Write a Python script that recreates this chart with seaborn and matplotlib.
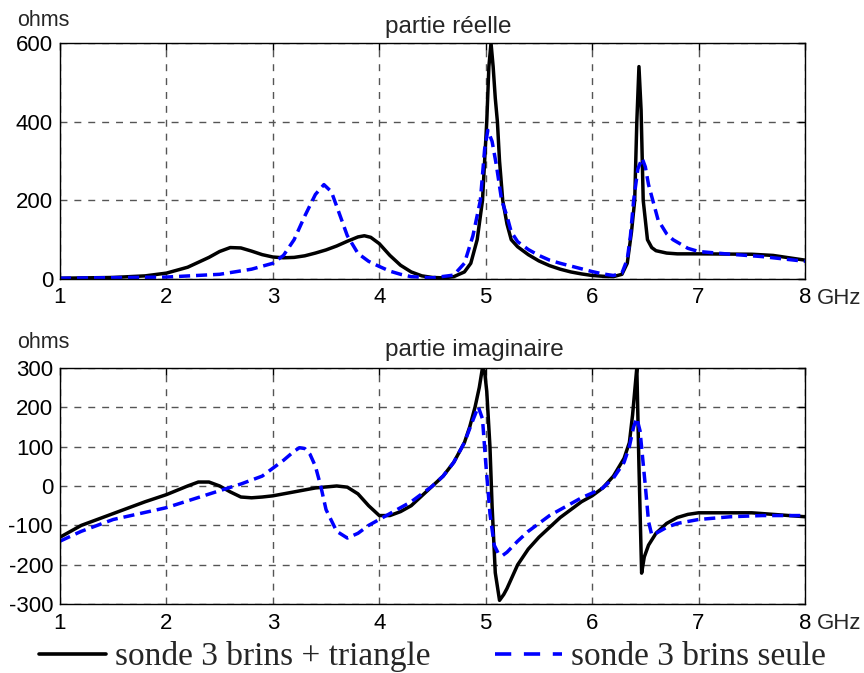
import matplotlib
matplotlib.use("Agg")
import matplotlib.pyplot as plt
import pandas as pd
import seaborn as sns

sns.set_style("white")
plt.rcParams['font.family'] = ['Liberation Sans', 'DejaVu Sans']

# --- data (GHz, ohms) ---
lab_tri = "sonde 3 brins + triangle"
lab_seule = "sonde 3 brins seule"

# partie reelle, sonde + triangle
f_re_tri = [1.0, 1.5, 1.8, 2.0, 2.2, 2.4, 2.5, 2.6, 2.7, 2.8, 2.9, 3.0, 3.1, 3.2, 3.3, 3.4, 3.5,
            3.6, 3.7, 3.8, 3.86, 3.92, 4.0, 4.1, 4.2, 4.3, 4.4, 4.5, 4.6, 4.7, 4.8, 4.86, 4.92,
            4.97, 5.01, 5.03, 5.05, 5.07, 5.09, 5.11, 5.13, 5.16, 5.2, 5.24, 5.3, 5.4, 5.5, 5.6,
            5.7, 5.8, 5.9, 6.0, 6.1, 6.2, 6.28, 6.33, 6.37, 6.4, 6.42, 6.44, 6.46, 6.48, 6.52,
            6.56, 6.6, 6.7, 6.8, 7.0, 7.5, 7.7, 8.0]
re_tri = [2, 4, 8, 15, 30, 55, 70, 80, 79, 71, 62, 56, 54, 55, 59, 66, 74,
          84, 96, 107, 110, 106, 90, 60, 35, 18, 8, 4, 3, 6, 18, 40, 100,
          200, 400, 540, 600, 540, 460, 400, 300, 200, 140, 100, 82, 62, 46, 34,
          25, 18, 13, 9, 7, 6, 12, 40, 120, 200, 400, 540, 430, 200, 100,
          80, 72, 66, 64, 64, 63, 60, 48]

# partie reelle, sonde seule
f_re_seule = [1.0, 2.0, 2.5, 2.8, 3.0, 3.1, 3.2, 3.3, 3.4, 3.48, 3.55, 3.6, 3.7, 3.8, 3.9, 4.0,
              4.1, 4.2, 4.3, 4.5, 4.7, 4.8, 4.88, 4.95, 4.99, 5.02, 5.06, 5.1, 5.15, 5.2, 5.24,
              5.3, 5.4, 5.5, 5.6, 5.7, 5.8, 5.9, 6.0, 6.1, 6.2, 6.28, 6.33, 6.36, 6.39, 6.43,
              6.47, 6.5, 6.53, 6.57, 6.62, 6.7, 6.76, 6.9, 7.0, 7.3, 7.6, 8.0]
re_seule = [2, 5, 12, 25, 40, 60, 100, 160, 215, 240, 222, 185, 110, 65, 45, 32,
            20, 12, 6, 3, 10, 40, 110, 200, 330, 378, 350, 290, 200, 160, 120,
            95, 75, 60, 48, 40, 33, 26, 19, 13, 9, 15, 50, 110, 200, 280,
            307, 285, 240, 200, 150, 115, 100, 78, 70, 63, 57, 45]

# partie imaginaire, sonde + triangle
f_im_tri = [1.0, 1.2, 1.5, 1.8, 2.0, 2.2, 2.3, 2.4, 2.5, 2.6, 2.7, 2.8, 2.9, 3.0, 3.2, 3.4,
            3.6, 3.7, 3.8, 3.9, 4.0, 4.1, 4.2, 4.3, 4.4, 4.5, 4.6, 4.7, 4.8, 4.85, 4.9, 4.94,
            4.97, 4.99, 5.01, 5.04, 5.06, 5.09, 5.13, 5.17, 5.2, 5.3, 5.4, 5.5, 5.6, 5.7, 5.8,
            5.9, 6.0, 6.1, 6.2, 6.3, 6.35, 6.38, 6.4, 6.42, 6.44, 6.465, 6.49, 6.53, 6.6, 6.7,
            6.8, 6.9, 7.0, 7.5, 7.7, 8.0]
im_tri = [-130, -100, -70, -40, -22, 0, 10, 10, 0, -15, -28, -30, -28, -25, -15, -5,
          0, -3, -20, -50, -75, -75, -65, -50, -25, 0, 25, 60, 110, 150, 200, 250,
          300, 290, 240, 100, -50, -220, -290, -275, -260, -200, -160, -130, -105, -80, -60,
          -40, -25, -5, 25, 70, 110, 180, 240, 300, 50, -221, -180, -150, -120, -95,
          -80, -72, -68, -68, -72, -78]

# partie imaginaire, sonde seule
f_im_seule = [1.0, 1.2, 1.5, 2.0, 2.5, 2.7, 2.9, 3.0, 3.1, 3.2, 3.25, 3.3, 3.35, 3.4, 3.45,
              3.5, 3.6, 3.7, 3.8, 3.9, 4.0, 4.1, 4.2, 4.3, 4.4, 4.5, 4.6, 4.7, 4.8, 4.87, 4.93,
              4.97, 5.0, 5.04, 5.08, 5.12, 5.16, 5.2, 5.3, 5.4, 5.5, 5.6, 5.7, 5.8, 5.9, 6.0,
              6.1, 6.2, 6.3, 6.35, 6.39, 6.42, 6.45, 6.5, 6.53, 6.56, 6.6, 6.7, 6.8, 7.0, 7.3,
              7.6, 8.0]
im_seule = [-140, -115, -85, -55, -12, 5, 25, 45, 65, 88, 97, 95, 80, 50, 0,
            -60, -115, -132, -120, -100, -85, -70, -55, -40, -20, 0, 25, 60, 110, 160, 201,
            170, 60, -70, -150, -172, -176, -168, -140, -115, -95, -75, -60, -45, -30, -18,
            -5, 20, 60, 100, 150, 172, 140, 0, -90, -124, -120, -105, -95, -85, -78,
            -75, -75]

df_re = pd.concat([pd.DataFrame({'f': f_re_tri, 'v': re_tri, 'sonde': lab_tri}),
                   pd.DataFrame({'f': f_re_seule, 'v': re_seule, 'sonde': lab_seule})],
                  ignore_index=True)
df_im = pd.concat([pd.DataFrame({'f': f_im_tri, 'v': im_tri, 'sonde': lab_tri}),
                   pd.DataFrame({'f': f_im_seule, 'v': im_seule, 'sonde': lab_seule})],
                  ignore_index=True)

palette = {lab_tri: 'black', lab_seule: '#0000ff'}
dashes = {lab_tri: '', lab_seule: (3.2, 1.7)}

fig = plt.figure(figsize=(8.64, 6.73), dpi=100)
ax1 = fig.add_axes([0.0694, 0.5854, 0.8623, 0.3507])
ax2 = fig.add_axes([0.0694, 0.1021, 0.8623, 0.3516])

panels = [(ax1, df_re, (0, 600), [0, 200, 400, 600], "partie réelle", 27, 20),
          (ax2, df_im, (-300, 300), [-300, -200, -100, 0, 100, 200, 300],
           "partie imaginaire", 350, 342)]

for ax, d, ylim, yt, title, ty, oy in panels:
    sns.lineplot(data=d, x='f', y='v', hue='sonde', style='sonde', palette=palette,
                 dashes=dashes, estimator=None, sort=False, linewidth=2.5, ax=ax,
                 legend=False)
    ax.set_xlim(1, 8)
    ax.set_ylim(*ylim)
    ax.set_xticks(range(1, 9))
    ax.set_xticklabels([str(i) for i in range(1, 9)])
    ax.set_yticks(yt)
    ax.set_yticklabels([str(v) for v in yt])
    ax.set_xlabel("")
    ax.set_ylabel("")
    ax.grid(True, linestyle=(0, (5, 5)), color='#555555', linewidth=1.0)
    ax.tick_params(direction='in', length=5, width=1, top=True, right=True,
                   labelsize=16, colors='black')
    ax.tick_params(axis='x', pad=6)
    ax.tick_params(axis='y', pad=5)
    for s in ax.spines.values():
        s.set_linewidth(1.0)
        s.set_color('black')
        s.set_visible(True)
    fig.text(385 / 864, 1 - ty / 673, title, ha='left', va='center', fontsize=17.5)
    fig.text(17 / 864, 1 - oy / 673, "ohms", ha='left', va='center', fontsize=15.5)
    # unit written after the last tick label, on the same line
    y_lab = ax.get_position().y0 - 19 / 673
    fig.text(817 / 864, y_lab, "GHz", ha='left', va='center', fontsize=16)

# legend below the lower panel: two entries placed like the reference
h1 = plt.Line2D([], [], color='black', linewidth=2.6)
h2 = plt.Line2D([], [], color='#0000ff', linewidth=2.6, linestyle=(0, (4.5, 3.5)))
leg_kw = dict(loc='center left', frameon=False, handlelength=2.0, handletextpad=0.27,
              borderpad=0, borderaxespad=0,
              prop={'family': 'Liberation Serif', 'size': 24})
fig.legend([h1], [lab_tri], bbox_to_anchor=(39 / 864, 1 - 657 / 673), **leg_kw)
fig.legend([h2], [lab_seule], bbox_to_anchor=(495 / 864, 1 - 657 / 673), **leg_kw)

fig.savefig("out.png", dpi=100)
